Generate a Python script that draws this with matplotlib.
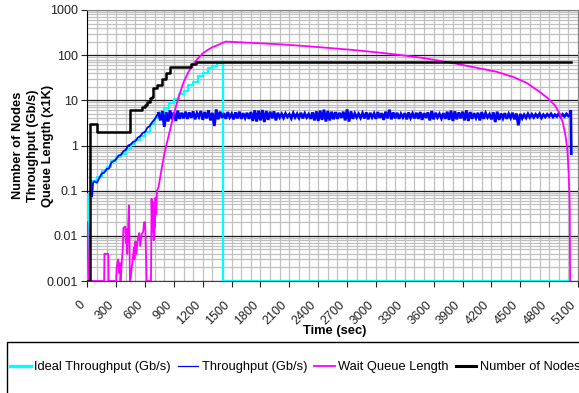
import numpy as np
import matplotlib.pyplot as plt
from matplotlib.ticker import FixedLocator, MultipleLocator, LogLocator, NullFormatter
from matplotlib.patches import Rectangle
from matplotlib.transforms import ScaledTranslation

plt.rcParams['font.family'] = ['Liberation Sans', 'DejaVu Sans']

# ---- data (time in seconds) ----
# number of nodes, held constant after each change
node_t = [0, 30, 97, 440, 565, 600, 620, 650, 670, 685, 720, 780, 815, 860, 1080, 1125, 5030]
node_v = [0, 3, 2, 6, 7, 8, 9, 11, 12, 19, 22, 30, 41, 55, 65, 72, 72]

# ideal throughput (Gb/s), staircase
ideal_t = [0, 4, 50, 100, 150, 200, 250, 300, 350, 400, 450, 500, 550, 600, 650, 700,
           750, 800, 850, 900, 950, 1000, 1050, 1100, 1150, 1200, 1250, 1300, 1350,
           1400, 1415, 5025]
ideal_v = [0, 0.085, 0.16, 0.2, 0.27, 0.33, 0.45, 0.55, 0.66, 0.85, 1.1, 1.3, 1.6, 2.0,
           3.0, 4.0, 5.3, 6.8, 8.8, 10.5, 13.5, 16, 22, 26, 34, 40, 52, 58, 68,
           75, 0, 0]

# measured throughput (Gb/s) while the pool is ramping up
ramp_t = [50, 60, 75, 100, 125, 150, 175, 200, 225, 250, 275, 300, 325, 350, 375, 400,
          425, 450, 475, 500, 525, 550, 575, 600, 625, 650, 675, 700, 720]
ramp_v = [0.075, 0.15, 0.16, 0.15, 0.19, 0.24, 0.25, 0.3, 0.31, 0.42, 0.45, 0.5, 0.6,
          0.62, 0.75, 0.8, 1.0, 1.05, 1.2, 1.25, 1.5, 1.6, 1.9, 2.0, 2.5, 2.7, 3.3, 3.8, 4.5]

# measured throughput (Gb/s) at steady state, one sample every 20 s from 740 s
steady_start = 740
steady_step = 20
steady_v = [
    5.2, 3.6, 5.8, 2.6, 5.5, 3.4, 6.0, 3.8, 5.4, 3.5, 5.9, 3.9, 5.3, 4.0, 5.6,
    3.9, 5.4, 4.1, 5.7, 3.8, 5.2, 4.3, 5.8, 3.7, 5.5, 4.0, 6.0, 3.6, 5.3, 2.7,
    6.3, 3.8, 5.6, 4.1, 5.2, 3.9, 5.5, 4.2, 5.0, 3.8, 5.4, 4.0, 5.6, 3.9, 5.2,
    4.1, 5.3, 3.9, 5.5, 3.5, 6.0, 3.4, 5.9, 3.6, 6.1, 3.3, 5.8, 3.7, 5.6, 4.0,
    5.7, 3.6, 5.3, 4.2, 5.0, 4.1, 5.1, 4.3, 4.9, 4.0, 5.2, 4.2, 5.0, 4.1, 5.3,
    4.0, 5.1, 4.2, 4.9, 3.9, 5.4, 3.6, 5.7, 3.5, 5.9, 3.7, 6.2, 3.4, 5.8, 3.6,
    5.6, 3.8, 5.5, 3.9, 5.3, 4.1, 5.6, 3.6, 6.3, 3.4, 5.7, 3.9, 5.1, 4.2, 5.0,
    4.1, 5.2, 4.0, 5.4, 3.8, 5.3, 4.2, 5.1, 3.9, 5.5, 4.1, 5.2, 3.7, 5.6, 4.0,
    6.2, 3.8, 5.4, 4.0, 5.3, 3.9, 5.0, 4.2, 5.2, 3.8, 5.4, 4.1, 5.1, 4.0, 5.3,
    3.9, 5.5, 3.7, 5.2, 4.1, 5.4, 3.6, 5.8, 3.8, 5.3, 4.2, 5.0, 4.0, 5.2, 3.9,
    5.6, 3.7, 5.9, 3.5, 5.7, 3.8, 5.4, 4.0, 5.6, 3.6, 6.0, 3.5, 5.5, 3.9, 5.2,
    4.1, 5.3, 3.6, 5.5, 3.9, 5.2, 4.2, 4.9, 3.8, 5.4, 3.3, 5.6, 3.7, 5.1, 4.0,
    5.2, 3.9, 5.0, 4.1, 5.3, 3.8, 5.1, 2.8, 5.0, 4.0, 4.8, 4.1, 5.0, 4.2, 4.9,
    4.2, 4.9, 4.3, 5.0, 4.1, 4.8, 4.3, 4.9, 4.4, 5.0, 4.3, 4.8, 4.4, 5.1, 4.3,
    4.9, 4.4, 5.0, 4.5, 4.8,
]
tail_t = [5025, 5030]
tail_v = [6.1, 0.66]

# wait queue length (x1000 tasks)
queue_t = [0, 12, 175, 178, 218, 222, 300, 305, 320, 330, 340, 345, 370, 375, 395, 400,
           410, 415, 426, 432, 438, 443, 447, 485, 490, 500, 510, 520, 530, 540, 550,
           565, 580, 590, 600, 606, 617, 662, 668, 676, 684, 690, 698, 703, 708, 715,
           725, 740, 770, 800, 830, 860, 900, 950, 1000, 1050, 1100, 1150, 1200, 1250,
           1300, 1350, 1400, 1440, 1600, 1800, 2000, 2250, 2500, 2750, 3000, 3250,
           3500, 3715, 3800, 4077, 4252, 4425, 4564, 4702, 4789, 4858, 4910, 4945, 4972,
           4990, 5003, 5010, 5014, 5018]
queue_v = [0.02, 0, 0, 0.004, 0.004, 0, 0, 0.002, 0.003, 0.0015, 0.0025, 0, 0.006, 0.015,
           0.016, 0.007, 0.014, 0.004, 0.02, 0.047, 0.01, 0, 0, 0.0055, 0.003, 0.0075,
           0.004, 0.007, 0.0095, 0.0115, 0.006, 0.011, 0.012, 0.02, 0.02, 0.009, 0, 0,
           0.066, 0.012, 0.055, 0.008, 0.04, 0.015, 0.07, 0.03, 0.1, 0.12, 0.28, 0.65,
           1.2, 2.2, 5.0, 12, 25, 42, 63, 85, 110, 130, 150, 165, 185, 200, 192, 183,
           174, 160, 145, 131, 116, 101, 86, 72, 67, 51, 43, 33, 24.5, 15.4, 11, 7.8, 5.1,
           3.07, 1.55, 0.79, 0.24, 0.1, 0.04, 0]

x_ticks = list(range(0, 5101, 300))
y_ticks = [0.001, 0.01, 0.1, 1, 10, 100, 1000]
y_labels = ['0.001', '0.01', '0.1', '1', '10', '100', '1000']

YMIN, YMAX = 0.001, 1000


def floor(v):
    # zero samples sit on the bottom of the log axis
    return np.maximum(np.asarray(v, dtype=float), YMIN)


steady_t = [steady_start + steady_step * i for i in range(len(steady_v))]

W, H = 579, 393
fig = plt.figure(figsize=(W / 100, H / 100), dpi=100)
ax = fig.add_axes([87.3 / W, 1 - 281 / H, (578 - 87.3) / W, (281 - 10) / H])

l_ideal, = ax.plot(ideal_t, floor(ideal_v), drawstyle='steps-post', color='#00ffff',
                   lw=1.6, label='Ideal Throughput (Gb/s)', zorder=3)
# throughput: ramp drawn thin, the dense steady-state samples as a thicker band
l_thr, = ax.plot(ramp_t + [steady_t[0]], floor(ramp_v + [steady_v[0]]), color='#0000ff',
                 lw=1.3, label='Throughput (Gb/s)', zorder=4)
ax.plot(steady_t + tail_t, floor(steady_v + tail_v), color='#0000ff', lw=2.0,
        solid_joinstyle='miter', zorder=4)
l_queue, = ax.plot(queue_t, floor(queue_v), color='#ff00ff', lw=1.3,
                   label='Wait Queue Length', zorder=5)
l_nodes, = ax.plot(node_t, floor(node_v), drawstyle='steps-post', color='black',
                   lw=1.8, label='Number of Nodes', zorder=6)

ax.set_yscale('log')
ax.set_ylim(YMIN, YMAX)
ax.set_xlim(0, 5100)

ax.yaxis.set_major_locator(FixedLocator(y_ticks))
ax.set_yticklabels(y_labels)
ax.yaxis.set_minor_locator(LogLocator(base=10, subs=np.arange(2, 10)))
ax.yaxis.set_minor_formatter(NullFormatter())
ax.xaxis.set_major_locator(FixedLocator(x_ticks))
ax.set_xticklabels([str(v) for v in x_ticks])
ax.xaxis.set_minor_locator(MultipleLocator(100))

ax.grid(which='minor', axis='both', color='#c0c0c0', lw=0.9)
ax.grid(which='major', axis='x', color='#c0c0c0', lw=0.9)
ax.grid(which='major', axis='y', color='#1a1a1a', lw=0.9)
ax.set_axisbelow(True)

ax.tick_params(which='minor', length=0)
ax.tick_params(which='major', length=4, width=0.8, direction='out', labelsize=9,
               colors='#222222')
ax.tick_params(axis='y', pad=3)
ax.tick_params(axis='x', pad=12)
shift = ScaledTranslation(-4 / 100, 0, fig.dpi_scale_trans)
for lab in ax.get_xticklabels():
    lab.set_rotation(45)
    lab.set_ha('right')
    lab.set_va('center')
    lab.set_rotation_mode('anchor')
    lab.set_transform(lab.get_transform() + shift)

for side in ('top', 'right'):
    ax.spines[side].set_color('#808080')
ax.spines['left'].set_color('black')
ax.spines['bottom'].set_color('#404040')

fig.text(33 / W, 1 - 145.5 / H, 'Number of Nodes\nThroughput (Gb/s)\nQueue Length (x1K)',
         rotation=90, ha='center', va='center', multialignment='center',
         fontsize=9.3, fontweight='bold', linespacing=1.3)
fig.text(335 / W, 1 - 331 / H, 'Time (sec)', ha='center', va='center',
         fontsize=9.3, fontweight='bold')

# legend strip along the bottom edge
fig.patches.append(Rectangle((7 / W, -0.2), 1.2, 0.2 + (393 - 342) / H,
                             transform=fig.transFigure, fill=False,
                             edgecolor='black', lw=1.0))
handles = [l_ideal, l_thr, l_queue, l_nodes]
leg = fig.legend(handles=handles, labels=[h.get_label() for h in handles], ncol=4,
                 loc='center left', bbox_to_anchor=(10 / W, 1 - 367 / H),
                 frameon=False, borderpad=0, borderaxespad=0, handlelength=1.6,
                 handletextpad=0.25, columnspacing=0.55, fontsize=9.3)
for h, w in zip(leg.get_lines(), [2.4, 0.9, 1.3, 2.2]):
    h.set_linewidth(w)

fig.savefig('out.png', dpi=100)
